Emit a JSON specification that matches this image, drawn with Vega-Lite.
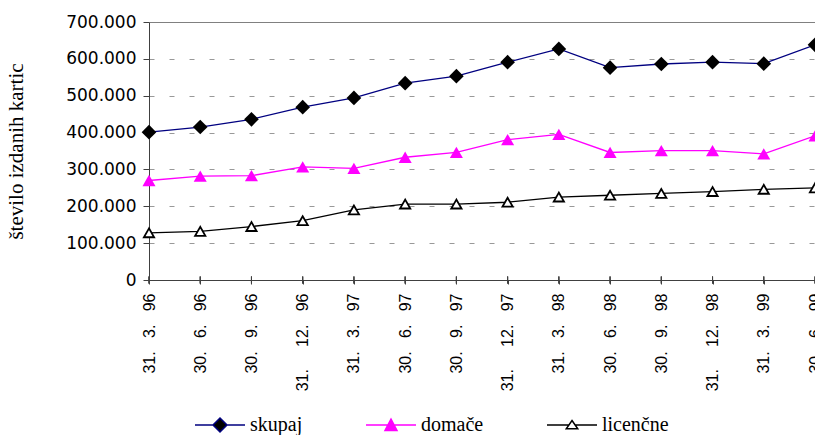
{
  "$schema": "https://vega.github.io/schema/vega-lite/v6.json",
  "autosize": {"type": "none"},
  "width": 666,
  "height": 258,
  "padding": {"left": 149, "top": 22, "right": 0, "bottom": 155},
  "background": "white",
  "config": {
    "view": {"stroke": null},
    "axis": {"domainColor": "#404040", "tickColor": "#404040", "labelColor": "black", "titleColor": "black"}
  },
  "data": {
    "values": [
      {"d": "31.\u00a0\u00a0\u00a03.\u00a0\u00a0\u00a096", "s": "skupaj", "v": 401000},
      {"d": "30.\u00a0\u00a0\u00a06.\u00a0\u00a0\u00a096", "s": "skupaj", "v": 415000},
      {"d": "30.\u00a0\u00a0\u00a09.\u00a0\u00a0\u00a096", "s": "skupaj", "v": 436000},
      {"d": "31.\u00a0\u00a0\u00a0\u00a0\u00a012.\u00a0\u00a0\u00a096", "s": "skupaj", "v": 469000},
      {"d": "31.\u00a0\u00a0\u00a03.\u00a0\u00a0\u00a097", "s": "skupaj", "v": 494000},
      {"d": "30.\u00a0\u00a0\u00a06.\u00a0\u00a0\u00a097", "s": "skupaj", "v": 534000},
      {"d": "30.\u00a0\u00a0\u00a09.\u00a0\u00a0\u00a097", "s": "skupaj", "v": 553000},
      {"d": "31.\u00a0\u00a0\u00a0\u00a0\u00a012.\u00a0\u00a0\u00a097", "s": "skupaj", "v": 591000},
      {"d": "31.\u00a0\u00a0\u00a03.\u00a0\u00a0\u00a098", "s": "skupaj", "v": 627000},
      {"d": "30.\u00a0\u00a0\u00a06.\u00a0\u00a0\u00a098", "s": "skupaj", "v": 576000},
      {"d": "30.\u00a0\u00a0\u00a09.\u00a0\u00a0\u00a098", "s": "skupaj", "v": 586000},
      {"d": "31.\u00a0\u00a0\u00a0\u00a0\u00a012.\u00a0\u00a0\u00a098", "s": "skupaj", "v": 591000},
      {"d": "31.\u00a0\u00a0\u00a03.\u00a0\u00a0\u00a099", "s": "skupaj", "v": 587000},
      {"d": "30.\u00a0\u00a0\u00a06.\u00a0\u00a0\u00a099", "s": "skupaj", "v": 638000},
      {"d": "31.\u00a0\u00a0\u00a03.\u00a0\u00a0\u00a096", "s": "domače", "v": 270000},
      {"d": "30.\u00a0\u00a0\u00a06.\u00a0\u00a0\u00a096", "s": "domače", "v": 282000},
      {"d": "30.\u00a0\u00a0\u00a09.\u00a0\u00a0\u00a096", "s": "domače", "v": 283000},
      {"d": "31.\u00a0\u00a0\u00a0\u00a0\u00a012.\u00a0\u00a0\u00a096", "s": "domače", "v": 307000},
      {"d": "31.\u00a0\u00a0\u00a03.\u00a0\u00a0\u00a097", "s": "domače", "v": 303000},
      {"d": "30.\u00a0\u00a0\u00a06.\u00a0\u00a0\u00a097", "s": "domače", "v": 333000},
      {"d": "30.\u00a0\u00a0\u00a09.\u00a0\u00a0\u00a097", "s": "domače", "v": 346000},
      {"d": "31.\u00a0\u00a0\u00a0\u00a0\u00a012.\u00a0\u00a0\u00a097", "s": "domače", "v": 381000},
      {"d": "31.\u00a0\u00a0\u00a03.\u00a0\u00a0\u00a098", "s": "domače", "v": 395000},
      {"d": "30.\u00a0\u00a0\u00a06.\u00a0\u00a0\u00a098", "s": "domače", "v": 346000},
      {"d": "30.\u00a0\u00a0\u00a09.\u00a0\u00a0\u00a098", "s": "domače", "v": 351000},
      {"d": "31.\u00a0\u00a0\u00a0\u00a0\u00a012.\u00a0\u00a0\u00a098", "s": "domače", "v": 351000},
      {"d": "31.\u00a0\u00a0\u00a03.\u00a0\u00a0\u00a099", "s": "domače", "v": 342000},
      {"d": "30.\u00a0\u00a0\u00a06.\u00a0\u00a0\u00a099", "s": "domače", "v": 391000},
      {"d": "31.\u00a0\u00a0\u00a03.\u00a0\u00a0\u00a096", "s": "licenčne", "v": 128000},
      {"d": "30.\u00a0\u00a0\u00a06.\u00a0\u00a0\u00a096", "s": "licenčne", "v": 132000},
      {"d": "30.\u00a0\u00a0\u00a09.\u00a0\u00a0\u00a096", "s": "licenčne", "v": 145000},
      {"d": "31.\u00a0\u00a0\u00a0\u00a0\u00a012.\u00a0\u00a0\u00a096", "s": "licenčne", "v": 161000},
      {"d": "31.\u00a0\u00a0\u00a03.\u00a0\u00a0\u00a097", "s": "licenčne", "v": 190000},
      {"d": "30.\u00a0\u00a0\u00a06.\u00a0\u00a0\u00a097", "s": "licenčne", "v": 206000},
      {"d": "30.\u00a0\u00a0\u00a09.\u00a0\u00a0\u00a097", "s": "licenčne", "v": 206000},
      {"d": "31.\u00a0\u00a0\u00a0\u00a0\u00a012.\u00a0\u00a0\u00a097", "s": "licenčne", "v": 211000},
      {"d": "31.\u00a0\u00a0\u00a03.\u00a0\u00a0\u00a098", "s": "licenčne", "v": 225000},
      {"d": "30.\u00a0\u00a0\u00a06.\u00a0\u00a0\u00a098", "s": "licenčne", "v": 230000},
      {"d": "30.\u00a0\u00a0\u00a09.\u00a0\u00a0\u00a098", "s": "licenčne", "v": 235000},
      {"d": "31.\u00a0\u00a0\u00a0\u00a0\u00a012.\u00a0\u00a0\u00a098", "s": "licenčne", "v": 240000},
      {"d": "31.\u00a0\u00a0\u00a03.\u00a0\u00a0\u00a099", "s": "licenčne", "v": 246000},
      {"d": "30.\u00a0\u00a0\u00a06.\u00a0\u00a0\u00a099", "s": "licenčne", "v": 250000}
    ]
  },
  "encoding": {
    "x": {
      "field": "d", "type": "nominal", "sort": null, "title": null,
      "scale": {"type": "point", "padding": 0},
      "axis": {
        "labelAngle": -90, "labelFont": "Liberation Sans", "labelFontSize": 16,
        "tickSize": 4, "labelPadding": 9, "labelOverlap": false, "grid": false
      }
    },
    "y": {
      "field": "v", "type": "quantitative",
      "title": "število izdanih kartic",
      "scale": {"domain": [0, 700000], "nice": false},
      "axis": {
        "values": [0, 100000, 200000, 300000, 400000, 500000, 600000, 700000],
        "labelExpr": "replace(format(datum.value, ','), ',', '.')",
        "labelFont": "DejaVu Sans", "labelFontSize": 17,
        "tickSize": 6, "labelPadding": 7,
        "titleFont": "Liberation Serif", "titleFontSize": 21, "titleFontWeight": "normal",
        "titlePadding": 39,
        "grid": true,
        "gridColor": {"condition": {"test": "datum.value === 700000", "value": "#808080"}, "value": "#999999"},
        "gridDash": {"condition": {"test": "datum.value === 700000", "value": []}, "value": [5, 15]}
      }
    }
  },
  "layer": [
    {
      "mark": {"type": "line", "strokeWidth": 1.3},
      "encoding": {
        "stroke": {
          "field": "s", "type": "nominal",
          "scale": {"domain": ["skupaj", "domače", "licenčne"], "range": ["#000080", "#FF00FF", "#000000"]},
          "legend": {
            "orient": "none", "legendX": 45, "legendY": 377, "direction": "horizontal",
            "title": null, "symbolSize": 2500, "symbolStrokeWidth": 1.5,
            "labelFont": "Liberation Serif", "labelFontSize": 20, "labelColor": "black",
            "labelOffset": 4, "columnPadding": 60,
            "encode": {
              "symbols": {
                "update": {
                  "shape": {"signal": "datum.value === 'skupaj' ? 'M-1,0H-0.28M0.28,0H1M0,-0.28L0.28,0L0,0.28L-0.28,0Z' : datum.value === 'domače' ? 'M-1,0H1M0,-0.24L0.24,0.22L-0.24,0.22Z' : 'M-1,0H-0.125M0.125,0H1M0,-0.18L0.23,0.15L-0.23,0.15Z'"},
                  "fill": {"signal": "datum.value === 'skupaj' ? '#000000' : datum.value === 'domače' ? '#FF00FF' : '#FFFFFF'"}
                }
              }
            }
          }
        }
      }
    },
    {
      "mark": {"type": "tick", "orient": "vertical", "size": 7, "thickness": 1, "color": "#404040", "opacity": 1},
      "encoding": {"y": {"datum": 0}}
    },
    {
      "transform": [{"filter": "datum.s === 'skupaj'"}],
      "mark": {"type": "point", "shape": "diamond", "size": 215, "filled": true, "color": "#000000", "opacity": 1}
    },
    {
      "transform": [{"filter": "datum.s === 'domače'"}],
      "mark": {"type": "point", "shape": "triangle-up", "size": 170, "filled": true, "color": "#FF00FF", "opacity": 1}
    },
    {
      "transform": [{"filter": "datum.s === 'licenčne'"}],
      "mark": {"type": "point", "shape": "triangle-up", "size": 105, "fill": "#FFFFFF", "stroke": "#000000", "strokeWidth": 1.8, "opacity": 1}
    }
  ]
}
